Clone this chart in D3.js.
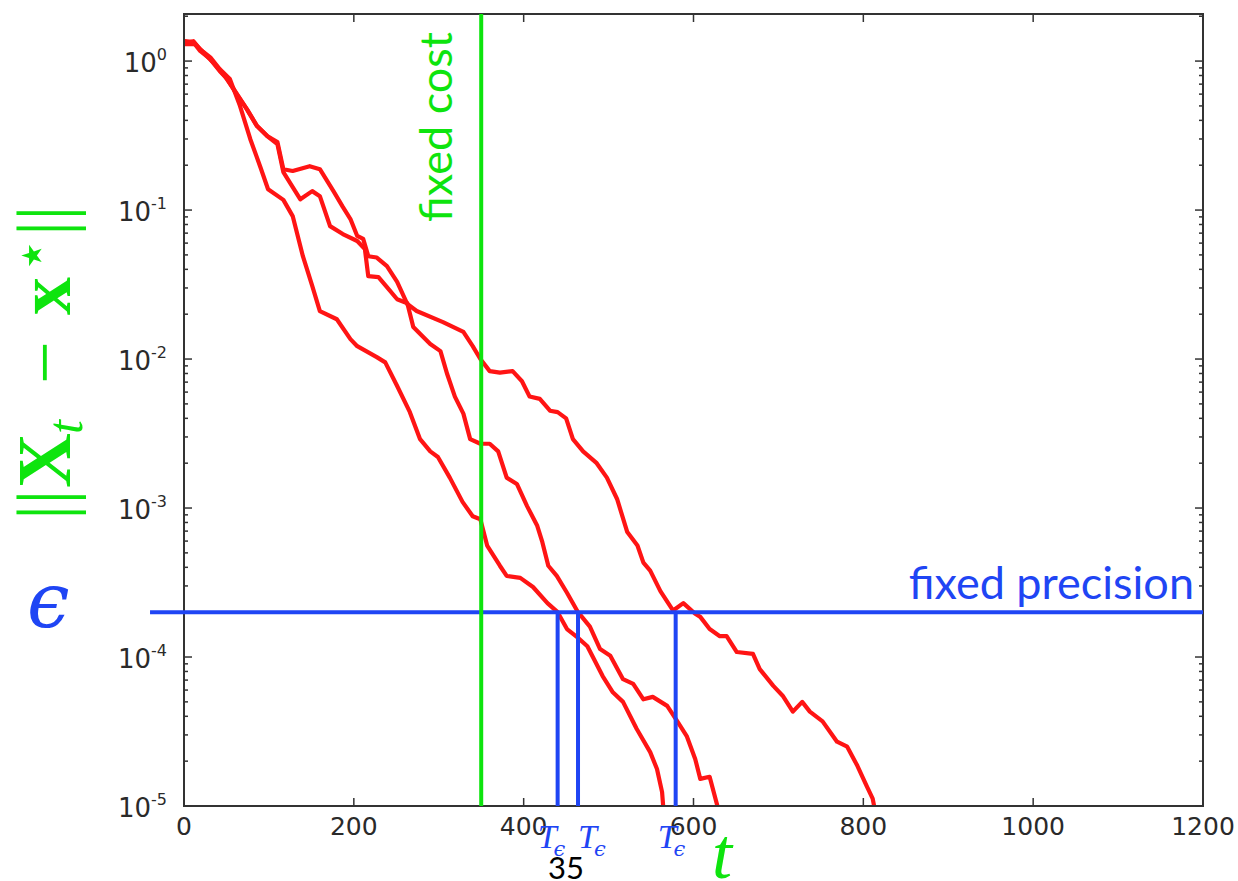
<!DOCTYPE html>
<html>
<head>
<meta charset="utf-8">
<script src="https://cdn.jsdelivr.net/npm/d3@7"></script>
<style>
    body { margin: 0; background: #fff; }
    svg { display: block; }
</style>
</head>
<body>
<div id="chart"></div>
<script>
/* * * * * * * * * * * * * *
*   error vs. iterations   *
* * * * * * * * * * * * * */

// three runs of the solver: [iteration t, ||X_t - x*||]
const runFast = [
    [1, 1.32], [11, 1.36], [19, 1.20], [31, 1.06], [42, 0.884], [54, 0.757], [66, 0.499],
    [78, 0.300], [90, 0.194], [99, 0.138], [117, 0.117], [128, 0.0911], [140, 0.049],
    [151, 0.031], [160, 0.021], [180, 0.0185], [196, 0.0136], [204, 0.0122], [227, 0.0103],
    [237, 0.0095], [251, 0.0066], [266, 0.0044], [278, 0.0029], [290, 0.0024], [299, 0.0022],
    [313, 0.0016], [328, 0.0011], [340, 8.8e-4], [349, 8.4e-4], [357, 5.6e-4], [372, 4.1e-4],
    [380, 3.5e-4], [396, 3.4e-4], [411, 2.95e-4], [428, 2.3e-4], [440, 2.0e-4], [451, 1.54e-4],
    [463, 1.36e-4], [475, 1.18e-4], [493, 7.45e-5], [505, 5.8e-5], [517, 5.0e-5], [533, 3.3e-5],
    [549, 2.3e-5], [557, 1.77e-5], [563, 1.24e-5], [566, 7.5e-6]
];

const runMid = [
    [1, 1.30], [13, 1.30], [25, 1.11], [36, 0.955], [48, 0.793], [60, 0.63], [74, 0.476],
    [86, 0.366], [98, 0.314], [110, 0.277], [117, 0.18], [137, 0.118], [151, 0.134], [160, 0.124],
    [172, 0.078], [187, 0.069], [204, 0.062], [213, 0.0548], [217, 0.036], [229, 0.0355],
    [239, 0.0304], [251, 0.0252], [263, 0.0237], [270, 0.0164], [290, 0.0126], [302, 0.0113],
    [310, 0.0079], [319, 0.0056], [329, 0.0043], [337, 0.0029], [349, 0.0027], [360, 0.0027],
    [370, 0.0024], [380, 0.0016], [392, 0.00145], [404, 0.00103], [416, 7.6e-4], [422, 5.9e-4],
    [429, 4.1e-4], [439, 3.5e-4], [451, 2.7e-4], [464, 2.0e-4], [478, 1.6e-4], [490, 1.13e-4],
    [502, 1.02e-4], [517, 7.1e-5], [529, 6.6e-5], [541, 5.2e-5], [552, 5.4e-5], [569, 4.7e-5],
    [581, 3.7e-5], [592, 2.95e-5], [602, 2.07e-5], [608, 1.52e-5], [619, 1.57e-5], [634, 7.5e-6]
];

const runSlow = [
    [1, 1.36], [11, 1.34], [19, 1.17], [31, 1.03], [42, 0.857], [51, 0.757], [62, 0.60],
    [74, 0.476], [86, 0.366], [98, 0.314], [110, 0.286], [117, 0.188], [128, 0.183], [148, 0.197],
    [160, 0.188], [176, 0.134], [187, 0.105], [196, 0.087], [204, 0.067], [211, 0.064],
    [217, 0.049], [227, 0.048], [239, 0.042], [251, 0.033], [263, 0.0234], [274, 0.021],
    [305, 0.0177], [329, 0.0152], [340, 0.0122], [349, 0.0100], [360, 0.0083], [372, 0.0081],
    [387, 0.0083], [398, 0.0071], [407, 0.0056], [419, 0.0054], [431, 0.0045], [440, 0.0044],
    [450, 0.0040], [458, 0.0029], [470, 0.0024], [486, 0.0020], [498, 0.0016], [510, 0.00115],
    [522, 6.9e-4], [534, 5.6e-4], [541, 4.3e-4], [549, 3.8e-4], [561, 2.77e-4], [576, 2.05e-4],
    [588, 2.3e-4], [602, 1.95e-4], [608, 1.86e-4], [619, 1.54e-4], [631, 1.38e-4], [639, 1.38e-4],
    [651, 1.08e-4], [670, 1.05e-4], [678, 8.3e-5], [694, 6.4e-5], [705, 5.5e-5], [717, 4.3e-5],
    [728, 5.0e-5], [737, 4.3e-5], [752, 3.7e-5], [769, 2.7e-5], [781, 2.5e-5], [793, 1.86e-5],
    [804, 1.36e-5], [811, 1.12e-5], [817, 7.5e-6]
];

const runs = [runFast, runMid, runSlow];

// budget / tolerance markers
const fixedCost = 350;
const epsilon = 2e-4;
const hitTimes = [440, 464, 579];
const precisionLineStart = -40;

// axes
const xTicks = [0, 200, 400, 600, 800, 1000, 1200];
const yTickExps = [0, -1, -2, -3, -4, -5];
const xDomain = [0, 1200];
const yDomain = [1e-5, 2.07];

const pageNumber = "35";

// layout
const W = 1238, H = 881;
const plot = { left: 184, right: 1203, top: 14, bottom: 806 };
const hitLabelDx = [-20, 0, -18];

const GREEN = "#0ee40e";
const BLUE = "#1f45f4";
const RED = "#ff1414";
const AXIS = "#333";

const svg = d3.select("#chart").append("svg")
    .attr("width", W)
    .attr("height", H);

const x = d3.scaleLinear().domain(xDomain).range([plot.left, plot.right]);
const y = d3.scaleLog().domain(yDomain).range([plot.bottom, plot.top]);

svg.append("defs").append("clipPath").attr("id", "plot-clip")
    .append("rect")
    .attr("x", plot.left).attr("y", plot.top)
    .attr("width", plot.right - plot.left)
    .attr("height", plot.bottom - plot.top);

// red error curves
const line = d3.line()
    .x(d => x(d[0]))
    .y(d => y(d[1]));

svg.append("g")
    .attr("clip-path", "url(#plot-clip)")
    .selectAll(".run")
    .data(runs)
    .enter().append("path")
    .attr("class", "run")
    .attr("d", line)
    .attr("fill", "none")
    .attr("stroke", RED)
    .attr("stroke-width", 4.2)
    .attr("stroke-linejoin", "round");

// frame
svg.append("rect")
    .attr("x", plot.left).attr("y", plot.top)
    .attr("width", plot.right - plot.left)
    .attr("height", plot.bottom - plot.top)
    .attr("fill", "none")
    .attr("stroke", AXIS)
    .attr("stroke-width", 2);

// x ticks, pointing inward on bottom and top
const ticks = svg.append("g").attr("stroke", AXIS).attr("stroke-width", 1.5);
xTicks.forEach(t => {
    ticks.append("line").attr("x1", x(t)).attr("x2", x(t)).attr("y1", plot.bottom).attr("y2", plot.bottom - 8);
    ticks.append("line").attr("x1", x(t)).attr("x2", x(t)).attr("y1", plot.top).attr("y2", plot.top + 8);
});

// y ticks, major at decades and minor in between, on both sides
yTickExps.forEach(e => {
    const v = Math.pow(10, e);
    ticks.append("line").attr("x1", plot.left).attr("x2", plot.left + 8).attr("y1", y(v)).attr("y2", y(v));
    ticks.append("line").attr("x1", plot.right).attr("x2", plot.right - 8).attr("y1", y(v)).attr("y2", y(v));
    d3.range(2, 10).forEach(m => {
        const mv = m * v;
        if (mv > yDomain[1]) return;
        ticks.append("line").attr("x1", plot.left).attr("x2", plot.left + 4).attr("y1", y(mv)).attr("y2", y(mv));
        ticks.append("line").attr("x1", plot.right).attr("x2", plot.right - 4).attr("y1", y(mv)).attr("y2", y(mv));
    });
});

// tick labels
svg.append("g").selectAll("text")
    .data(xTicks)
    .enter().append("text")
    .attr("x", d => x(d))
    .attr("y", plot.bottom + 29)
    .attr("text-anchor", "middle")
    .attr("font-family", "DejaVu Sans")
    .attr("font-size", 25)
    .attr("fill", "#2a2a2a")
    .text(d => d);

const yLabels = svg.append("g").selectAll("text")
    .data(yTickExps)
    .enter().append("text")
    .attr("x", plot.left - 17)
    .attr("y", d => y(Math.pow(10, d)) + 11)
    .attr("text-anchor", "end")
    .attr("font-family", "DejaVu Sans")
    .attr("font-size", 26)
    .attr("fill", "#2a2a2a");
yLabels.append("tspan").text("10");
yLabels.append("tspan")
    .attr("dy", -12)
    .attr("font-size", 16)
    .text(d => d);

// fixed precision: horizontal line at epsilon and the hitting times
svg.append("line")
    .attr("x1", x(precisionLineStart)).attr("x2", plot.right)
    .attr("y1", y(epsilon)).attr("y2", y(epsilon))
    .attr("stroke", BLUE).attr("stroke-width", 4);

svg.selectAll(".hit")
    .data(hitTimes)
    .enter().append("line")
    .attr("class", "hit")
    .attr("x1", d => x(d)).attr("x2", d => x(d))
    .attr("y1", y(epsilon)).attr("y2", plot.bottom)
    .attr("stroke", BLUE).attr("stroke-width", 4);

// fixed cost: vertical budget line
svg.append("line")
    .attr("x1", x(fixedCost)).attr("x2", x(fixedCost))
    .attr("y1", plot.top).attr("y2", plot.bottom)
    .attr("stroke", GREEN).attr("stroke-width", 4);

svg.append("text")
    .attr("transform", `translate(${x(fixedCost) - 29}, 222) rotate(-90)`)
    .attr("font-family", "Lato")
    .attr("font-size", 45)
    .attr("fill", GREEN)
    .text("fixed cost");

svg.append("text")
    .attr("x", 1194)
    .attr("y", y(epsilon) - 13)
    .attr("text-anchor", "end")
    .attr("font-family", "Lato")
    .attr("font-size", 45)
    .attr("fill", BLUE)
    .text("fixed precision");

// T_eps under each hitting time
const hitLabels = svg.selectAll(".hit-label")
    .data(hitTimes)
    .enter().append("text")
    .attr("class", "hit-label")
    .attr("x", (d, i) => x(d) + hitLabelDx[i])
    .attr("y", 848)
    .attr("font-family", "Liberation Serif")
    .attr("font-style", "italic")
    .attr("font-size", 34)
    .attr("fill", BLUE);
hitLabels.append("tspan").text("T");
hitLabels.append("tspan")
    .attr("dx", -3)
    .attr("dy", 8)
    .attr("font-family", "DejaVu Serif")
    .attr("font-size", 21)
    .text("\u03F5");

// axis symbols
svg.append("text")
    .attr("x", 712)
    .attr("y", 878)
    .attr("font-family", "Liberation Serif")
    .attr("font-style", "italic")
    .attr("font-size", 72)
    .attr("fill", GREEN)
    .text("t");

svg.append("text")
    .attr("x", 27)
    .attr("y", 627)
    .attr("font-family", "DejaVu Serif")
    .attr("font-style", "italic")
    .attr("font-size", 76)
    .attr("fill", BLUE)
    .text("\u03F5");

// ||X_t - x*|| written upward along the left edge
const ylab = svg.append("text")
    .attr("transform", "rotate(-90)")
    .attr("y", 70)
    .attr("font-family", "Liberation Serif")
    .attr("font-size", 76)
    .attr("fill", GREEN);
ylab.append("tspan").attr("x", -520).text("||");
ylab.append("tspan").attr("x", -488).attr("font-weight", "bold").text("X");
ylab.append("tspan").attr("x", -434).attr("y", 82)
    .attr("font-style", "italic").attr("font-size", 50).text("t");
ylab.append("tspan").attr("x", -384).attr("y", 70).text("\u2212");
ylab.append("tspan").attr("x", -315).attr("font-weight", "bold").text("x");
ylab.append("tspan").attr("x", -273).attr("y", 50)
    .attr("font-family", "DejaVu Sans").attr("font-size", 56).text("\u22C6");
ylab.append("tspan").attr("x", -236).attr("y", 70).text("||");

// slide page number
svg.append("text")
    .attr("x", 566)
    .attr("y", 879)
    .attr("text-anchor", "middle")
    .attr("font-family", "Lato")
    .attr("font-size", 31)
    .attr("fill", "#000")
    .text(pageNumber);
</script>
</body>
</html>
